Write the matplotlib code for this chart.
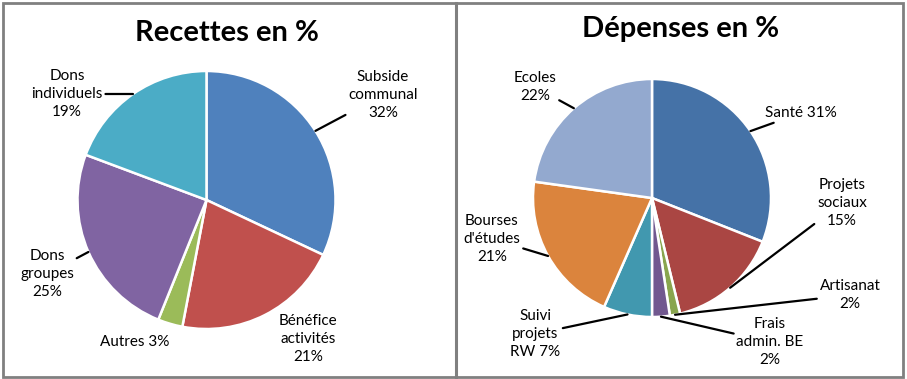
import numpy as np
import matplotlib.pyplot as plt
from matplotlib.patches import Rectangle

W, H = 907, 379

# Recettes (left pie), clockwise from 12 o'clock
rec_labels = ["Subside\ncommunal\n32%", "Bénéfice\nactivités\n21%", "Autres 3%",
              "Dons\ngroupes\n25%", "Dons\nindividuels\n19%"]
rec_values = [32.0, 21.0, 3.1, 24.6, 19.3]
rec_colors = ["#4F81BD", "#C0504D", "#9BBB59", "#8064A2", "#4BACC6"]

# Dépenses (right pie)
dep_labels = ["Santé 31%", "Projets\nsociaux\n15%", "Artisanat\n2%",
              "Frais\nadmin. BE\n2%", "Suivi\nprojets\nRW 7%",
              "Bourses\nd'études\n21%", "Ecoles\n22%"]
dep_values = [31.0, 15.2, 1.4, 2.4, 6.6, 20.6, 22.8]
dep_colors = ["#4572A7", "#AA4643", "#89A54E", "#71588F", "#4198AF",
              "#DB843D", "#93A9CF"]

plt.rcParams['font.family'] = ['Lato', 'DejaVu Sans']

fig = plt.figure(figsize=(W / 100, H / 100), dpi=100)
ax = fig.add_axes([0, 0, 1, 1])


def draw_pie(values, colors, labels, center, radius, label_pos, leaders):
    # y axis is inverted, so counterclock=True reads clockwise on screen
    wedges, _ = ax.pie(values, colors=colors, startangle=-90, counterclock=True,
                       center=center, radius=radius, frame=True,
                       wedgeprops=dict(edgecolor="white", linewidth=1.8))
    for w, lab, pos, lead in zip(wedges, labels, label_pos, leaders):
        mid = np.deg2rad((w.theta1 + w.theta2) / 2)
        tip = (center[0] + radius * np.cos(mid), center[1] + radius * np.sin(mid))
        if lead:
            ax.annotate(lab, xy=tip, xytext=pos, ha="center", va="center",
                        fontsize=11, color="black", linespacing=1.4,
                        arrowprops=dict(arrowstyle="-", color="black", lw=1.6,
                                        shrinkA=0, shrinkB=0))
        else:
            ax.text(pos[0], pos[1], lab, ha="center", va="center",
                    fontsize=11, color="black", linespacing=1.4)


draw_pie(rec_values, rec_colors, rec_labels, (206.5, 200), 129,
         [(383, 95), (308, 339), (135, 342), (47, 274), (67, 94)],
         [True, False, False, True, True])

draw_pie(dep_values, dep_colors, dep_labels, (652, 198), 119,
         [(801, 113), (842, 203), (850, 295), (770, 342), (535, 334),
          (492, 239), (535, 87)],
         [True, True, True, True, True, True, True])

ax.text(227, 33, "Recettes en %", ha="center", va="center",
        fontsize=21, fontweight="bold")
ax.text(681, 29, "Dépenses en %", ha="center", va="center",
        fontsize=21, fontweight="bold")

# panel borders
ax.add_patch(Rectangle((3, 3), 900, 373.5, fill=False, edgecolor="#808080", lw=2.0))
ax.plot([455.5, 455.5], [3, 376.5], color="#808080", lw=2.2)

ax.set_xlim(0, W)
ax.set_ylim(H, 0)
ax.set_aspect("equal")
ax.axis("off")

fig.savefig("out.png", dpi=100)
